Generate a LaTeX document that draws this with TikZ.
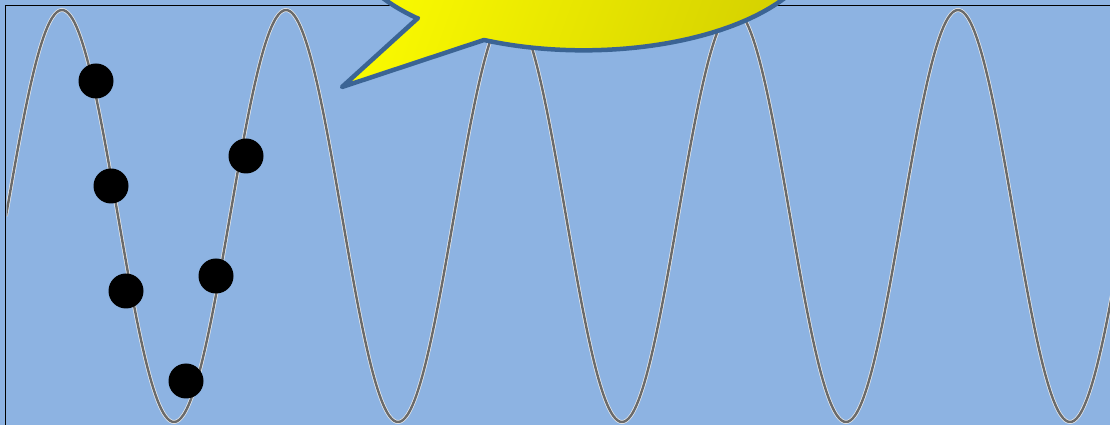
\documentclass[tikz,border=0pt]{standalone}
\usetikzlibrary{shadings}
\definecolor{bgblue}{HTML}{8DB3E2}
\definecolor{wavegray}{HTML}{6A6A6A}
\definecolor{bubbleedge}{HTML}{3B6494}
\definecolor{yelA}{HTML}{FFFF00}
\definecolor{yelB}{HTML}{D2CE00}
\tikzset{
  dot/.style={circle, fill=black, inner sep=0pt, minimum size=35pt},
  waveback/.style={white!85!gray, line width=3.8pt},
  wavefront/.style={wavegray, line width=2.4pt},
  bubble/.style={draw=bubbleedge, line width=4.5pt, line join=round, left color=yelA, right color=yelB, shading angle=70}
}
\begin{document}
\begin{tikzpicture}[x=1pt,y=1pt]
\useasboundingbox (0,0) rectangle (1110,425);
\begin{scope}
\clip (0,0) rectangle (1110,425);
\fill[bgblue] (0,0) rectangle (1110,425);
\draw[black, line width=1.8pt] (5.5,-5) -- (5.5,419.5) -- (1120,419.5);
\begin{scope}
\clip (6.5,0) rectangle (1110,418.6);
\draw[waveback] plot[domain=6:1112, samples=500, smooth] (\x, {209+206*cos((\x-62)/224*360)});
\draw[wavefront] plot[domain=6:1112, samples=500, smooth] (\x, {209+206*cos((\x-62)/224*360)});
\end{scope}
\node[dot] (d1) at (96,344) {};
\node[dot] (d2) at (111,239) {};
\node[dot] (d3) at (126,134) {};
\node[dot] (d4) at (186,44) {};
\node[dot] (d5) at (216,149) {};
\node[dot] (d6) at (246,269) {};
\path[bubble] (418,407) -- (342,338) -- (484,385) arc[start angle=245, end angle=585, x radius=236pt, y radius=110pt] -- cycle;
\end{scope}
\end{tikzpicture}
\end{document}
